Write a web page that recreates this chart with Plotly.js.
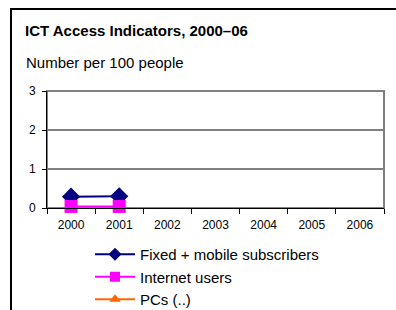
<!DOCTYPE html>
<html>
<head>
<meta charset="utf-8">
<script src="https://cdn.plot.ly/plotly-3.0.1.min.js"></script>
<style>
  html, body { margin: 0; padding: 0; background: #fff; overflow: hidden; }
  #wrap { position: relative; width: 396px; height: 310px; }
  #frame { position: absolute; left: 10px; top: 8px; width: 400px; height: 320px; border: 2px solid #000; box-sizing: border-box; pointer-events: none; z-index: 5; }
  #chart { position: absolute; left: 0; top: 0; width: 396px; height: 310px; }
</style>
</head>
<body>
<div id="wrap">
  <div id="chart"></div>
  <div id="frame"></div>
</div>
<script>
var years = ["2000", "2001", "2002", "2003", "2004", "2005", "2006"];
var fixedMobile = [0.29, 0.30, null, null, null, null, null];
var internetUsers = [0.04, 0.04, null, null, null, null, null];
var pcs = [null, null, null, null, null, null, null];
var seriesNames = ["Fixed + mobile subscribers", "Internet users", "PCs (..)"];
var seriesColors = ["#000080", "#FF00FF", "#FF6600"];
var seriesSymbols = ["diamond", "square", "triangle-up"];
var seriesValues = [fixedMobile, internetUsers, pcs];
var plotMarkerSizes = [14, 13, 12];

var fontFam = "Arial, 'Liberation Sans', sans-serif";

var traces = [];
// data traces (drawn in the plot)
for (var i = 0; i < seriesNames.length; i++) {
  traces.push({
    x: years, y: seriesValues[i], name: seriesNames[i], type: "scatter", mode: "lines+markers",
    line: {color: seriesColors[i], width: 2},
    marker: {symbol: seriesSymbols[i], size: plotMarkerSizes[i], color: seriesColors[i]},
    connectgaps: false, showlegend: false, legendgroup: "g" + i,
    cliponaxis: false
  });
}
// legend entries (smaller legend markers, as in the original)
for (var j = 0; j < seriesNames.length; j++) {
  traces.push({
    x: [null], y: [null], name: seriesNames[j], type: "scatter", mode: "lines+markers",
    line: {color: seriesColors[j], width: 2},
    marker: {symbol: seriesSymbols[j], size: 10, color: seriesColors[j]},
    showlegend: true, legendgroup: "g" + j
  });
}

var layout = {
  width: 396, height: 310,
  margin: {l: 47, r: 12, t: 91, b: 102, autoexpand: false},
  paper_bgcolor: "#fff", plot_bgcolor: "#fff",
  font: {family: fontFam, color: "#000", size: 12},
  showlegend: true,
  title: {
    text: "<b>ICT Access Indicators, 2000–06</b>",
    font: {family: fontFam, size: 15, color: "#000"},
    xref: "container", yref: "container",
    x: 25/396, xanchor: "left",
    y: 1 - 25/310, yanchor: "top"
  },
  annotations: [{
    text: "Number per 100 people",
    xref: "paper", yref: "paper",
    x: (24 - 47)/337, xanchor: "left",
    y: (208 - 62)/117, yanchor: "middle",
    showarrow: false,
    font: {family: fontFam, size: 15, color: "#000"}
  }],
  xaxis: {
    type: "category",
    categoryorder: "array", categoryarray: years,
    range: [-0.5, 6.5],
    showline: true, linecolor: "#000", linewidth: 1,
    ticks: "outside", ticklen: 5, tickcolor: "#000", tickwidth: 1,
    tickson: "boundaries",
    ticklabelstandoff: 6,
    showgrid: false, zeroline: false,
    tickfont: {family: fontFam, size: 12, color: "#000"},
    fixedrange: true
  },
  yaxis: {
    range: [0, 3],
    tickvals: [0, 1, 2, 3],
    showline: true, linecolor: "#000", linewidth: 1,
    ticks: "outside", ticklen: 4, tickcolor: "#000", tickwidth: 1,
    ticklabelstandoff: 4,
    showgrid: true, gridcolor: "#808080", gridwidth: 2,
    zeroline: false,
    tickfont: {family: fontFam, size: 12, color: "#000"},
    fixedrange: true
  },
  shapes: [{
    type: "rect", xref: "paper", yref: "paper",
    x0: 0, x1: 1, y0: 0, y1: 1,
    line: {color: "#808080", width: 2},
    layer: "below"
  }],
  legend: {
    x: (90 - 47)/337, xanchor: "left",
    y: (208 - 238)/117, yanchor: "top",
    bgcolor: "rgba(0,0,0,0)",
    font: {family: fontFam, size: 15, color: "#000"},
    tracegroupgap: 0,
    itemwidth: 40
  }
};

Plotly.newPlot("chart", traces, layout, {displayModeBar: false, staticPlot: true});
</script>
</body>
</html>
